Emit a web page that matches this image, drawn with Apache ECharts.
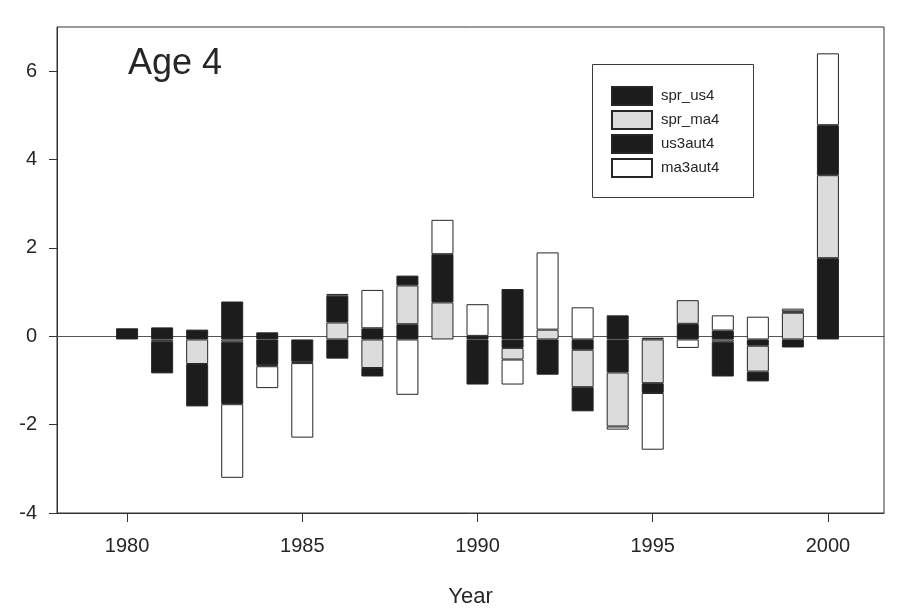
<!DOCTYPE html>
<html>
<head>
<meta charset="utf-8">
<script src="https://cdn.jsdelivr.net/npm/echarts@6/dist/echarts.min.js"></script>
<style>
  html, body { margin: 0; padding: 0; background: #ffffff; }
  #chart { width: 900px; height: 613px; }
</style>
</head>
<body>
<div id="chart"></div>
<script>
// Age-4 index residual components by survey year
const years = [1980, 1981, 1982, 1983, 1984, 1985, 1986, 1987, 1988, 1989, 1990,
               1991, 1992, 1993, 1994, 1995, 1996, 1997, 1998, 1999, 2000];
const spr_us4 = [0.25, 0.27, 0.22, 0.85, -0.57, -0.50, -0.43, 0.25, 0.34, 0, 0.08,
                 -0.19, -0.79, -0.23, -0.74, 0.04, 0.35, 0.20, -0.14, -0.18, 1.82];
const spr_ma4 = [0, -0.04, -0.55, -0.05, -0.03, -0.03, 0.38, -0.64, 0.87, 0.83, 0,
                 -0.26, 0.22, -0.84, -1.21, -0.98, 0.53, -0.05, -0.58, 0.60, 1.86];
const us3aut4 = [0, -0.72, -0.95, -1.40, 0.16, 0, 0.60, -0.19, 0.22, 1.08, -1.01,
                 1.13, 0, -0.54, 0.54, -0.22, 0, -0.78, -0.22, 0.03, 1.12];
const ma3aut4 = [0, 0, 0, -1.65, -0.49, -1.67, 0.04, 0.86, -1.24, 0.77, 0.71,
                 -0.56, 1.73, 0.72, -0.07, -1.27, -0.19, 0.34, 0.51, 0.06, 1.61];

const xTicks = [1980, 1985, 1990, 1995, 2000];
const yTicks = [-4, -2, 0, 2, 4, 6];

const FONT = "'Liberation Sans', Arial, sans-serif";
const INK = '#262626';

// plot frame and the year scale it shows
const X_MIN = 1978, X_MAX = 2001.6, Y_MIN = -4, Y_MAX = 7;
const FRAME = { left: 57, top: 27, right: 16, bottom: 95 };

// the bar grid is a one-slot-per-year band laid over the same year scale
const frameWidth = 900 - FRAME.left - FRAME.right;
const pxPerYear = frameWidth / (X_MAX - X_MIN);
const barLeft = FRAME.left + (years[0] - 0.5 - X_MIN) * pxPerYear;
const barRight = 900 - (barLeft + years.length * pxPerYear);

// empty components are left out of the stack
function cleaned(vals) {
  return vals.map(v => (v === 0 ? null : v));
}

function barSeries(name, vals, fill) {
  return {
    name: name,
    type: 'bar',
    xAxisIndex: 2,
    yAxisIndex: 1,
    stack: 'total',
    stackStrategy: 'samesign',
    barWidth: 22,
    data: cleaned(vals),
    itemStyle: { color: fill, borderColor: INK, borderWidth: 1 },
    emphasis: { disabled: true },
    animation: false,
    z: 3
  };
}

const chart = echarts.init(document.getElementById('chart'), null, { renderer: 'canvas' });

chart.setOption({
  backgroundColor: '#ffffff',
  animation: false,
  textStyle: { fontFamily: FONT },
  grid: [
    {
      left: FRAME.left, top: FRAME.top, right: FRAME.right, bottom: FRAME.bottom,
      show: true, borderColor: '#333', borderWidth: 1, backgroundColor: 'transparent'
    },
    {
      left: barLeft, top: FRAME.top, right: barRight, bottom: FRAME.bottom,
      show: false
    }
  ],
  graphic: [
    {
      type: 'rect', left: 592, top: 64, z: 1, silent: true,
      shape: { width: 161, height: 133 },
      style: { fill: '#ffffff', stroke: '#3a3a3a', lineWidth: 1 }
    },
    {
      type: 'text', left: 128, top: 46, z: 5, silent: true,
      style: { text: 'Age 4', font: '36px ' + FONT, fill: INK }
    }
  ],
  legend: {
    orient: 'vertical',
    left: 611, top: 86,
    padding: 0,
    itemWidth: 40, itemHeight: 18, itemGap: 4,
    icon: 'rect',
    selectedMode: false,
    textStyle: { fontFamily: FONT, fontSize: 15, color: INK, padding: [0, 0, 0, 4] },
    data: ['spr_us4', 'spr_ma4', 'us3aut4', 'ma3aut4'],
    z: 6
  },
  xAxis: [
    {
      gridIndex: 0,
      type: 'value', min: X_MIN, max: X_MAX,
      position: 'bottom',
      name: 'Year', nameLocation: 'middle', nameGap: 73,
      nameTextStyle: { fontFamily: FONT, fontSize: 22, color: INK },
      axisLine: { show: true, onZero: false, lineStyle: { color: '#333', width: 1 } },
      axisTick: { show: true, length: 9, customValues: xTicks, lineStyle: { color: '#333' } },
      axisLabel: { customValues: xTicks, fontFamily: FONT, fontSize: 20, color: INK, margin: 23,
                   formatter: v => String(v) },
      splitLine: { show: false }
    },
    {
      // reference line at zero, drawn beneath the bars
      gridIndex: 0,
      type: 'value', min: X_MIN, max: X_MAX,
      position: 'top',
      axisLine: { show: true, onZero: true, lineStyle: { color: '#555', width: 1 } },
      axisTick: { show: false },
      axisLabel: { show: false },
      splitLine: { show: false }
    },
    {
      // one slot per year for the stacked bars
      gridIndex: 1,
      type: 'category', data: years, boundaryGap: true,
      show: false
    }
  ],
  yAxis: [
    {
      gridIndex: 0,
      type: 'value', min: Y_MIN, max: Y_MAX,
      axisLine: { show: true, lineStyle: { color: '#333', width: 1 } },
      axisTick: { show: true, length: 8, customValues: yTicks, lineStyle: { color: '#333' } },
      axisLabel: { customValues: yTicks, fontFamily: FONT, fontSize: 20, color: INK, margin: 20 },
      splitLine: { show: false }
    },
    {
      gridIndex: 1,
      type: 'value', min: Y_MIN, max: Y_MAX,
      show: false,
      splitLine: { show: false }
    }
  ],
  series: [
    barSeries('spr_us4', spr_us4, '#1c1c1c'),
    barSeries('spr_ma4', spr_ma4, '#dcdcdc'),
    barSeries('us3aut4', us3aut4, '#1c1c1c'),
    barSeries('ma3aut4', ma3aut4, '#ffffff')
  ]
});
</script>
</body>
</html>
